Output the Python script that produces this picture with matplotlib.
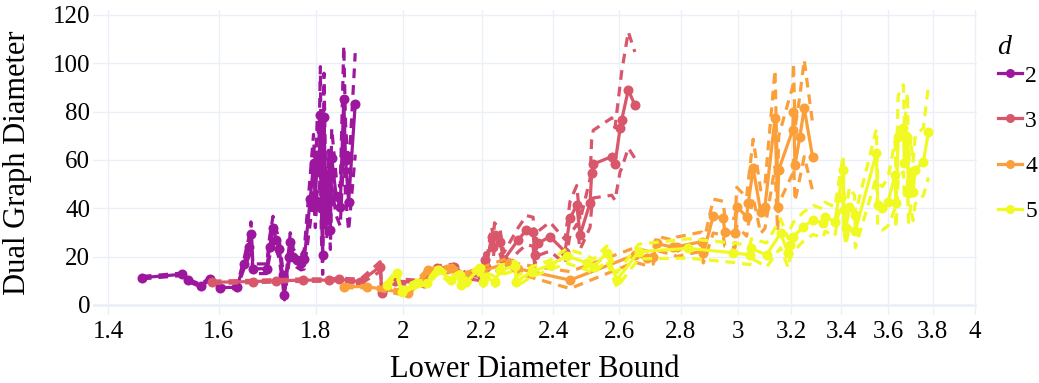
import matplotlib
matplotlib.use("Agg")
import matplotlib.pyplot as plt
from matplotlib.lines import Line2D
from matplotlib.ticker import FixedLocator, FixedFormatter, NullLocator
import numpy as np

# ---------------- data ----------------
d_values = [2, 3, 4, 5]
colors = ["#9c179e", "#d8576b", "#fb9f3a", "#f0f921"]

# d = 2
x_d2 = [1.458, 1.531, 1.541, 1.566, 1.583, 1.602, 1.636, 1.650, 1.660, 1.664,
        1.668, 1.696, 1.702, 1.709, 1.716, 1.722, 1.729, 1.733, 1.742, 1.745,
        1.752, 1.759, 1.768, 1.775, 1.788, 1.795, 1.799, 1.803, 1.807, 1.810,
        1.812, 1.815, 1.818, 1.821, 1.824, 1.828, 1.832, 1.835, 1.845, 1.854,
        1.862, 1.866, 1.873, 1.888]
y_d2 = [11.3, 12.7, 10.3, 8.0, 10.9, 7.2, 7.3, 17.0, 24.0, 29.4,
        15.0, 15.0, 24.0, 31.7, 27.0, 23.0, 12.4, 4.1, 20.0, 25.9,
        20.0, 18.6, 17.5, 18.9, 44.0, 58.6, 42.0, 62.0, 55.0, 78.6,
        40.0, 20.7, 77.9, 50.0, 35.0, 54.0, 31.0, 61.0, 45.0, 40.7,
        85.2, 60.0, 42.7, 83.2]
s_d2 = [0.5, 0.5, 0.5, 0.5, 0.5, 0.5, 0.5, 2, 4, 5,
        2, 2, 4, 5, 4, 4, 3, 2, 3, 4,
        3, 3, 3, 4, 10, 12, 10, 15, 13, 20,
        10, 8, 18, 10, 8, 10, 8, 12, 8, 8,
        22, 15, 12, 21]

# d = 3
x_d3 = [1.587, 1.668, 1.715, 1.773, 1.828, 1.852, 1.900, 1.946, 1.950, 1.980,
        2.051, 2.084, 2.127, 2.160, 2.200, 2.210, 2.213, 2.227, 2.232, 2.235,
        2.250, 2.260, 2.300, 2.323, 2.342, 2.346, 2.356, 2.390, 2.434, 2.449,
        2.469, 2.479, 2.509, 2.514, 2.519, 2.576, 2.586, 2.602, 2.607, 2.628,
        2.649]
y_d3 = [9.4, 9.7, 10.0, 10.3, 10.3, 10.6, 9.7, 15.9, 4.8, 10.0,
        9.0, 15.2, 15.9, 12.0, 12.0, 18.6, 15.9, 28.3, 24.1, 29.0,
        26.2, 18.6, 27.0, 31.0, 30.3, 20.7, 25.5, 28.3, 22.1, 35.9,
        41.4, 29.0, 42.1, 54.5, 58.3, 61.4, 58.3, 73.1, 76.5, 89.0,
        82.7]
s_d3 = [0.5, 0.5, 0.5, 0.5, 0.5, 0.5, 1, 2, 1, 1,
        1, 1, 1, 1, 2, 3, 2, 4, 4, 5,
        5, 3, 5, 6, 6, 4, 5, 6, 5, 7,
        8, 6, 10, 14, 14, 16, 15, 18, 20, 24,
        22]

# d = 4
x_d4 = [1.862, 1.915, 2.012, 2.063, 2.110, 2.119, 2.160, 2.200, 2.274, 2.300,
        2.449, 2.649, 2.688, 2.709, 2.720, 2.775, 2.787, 2.872, 2.878, 2.913,
        2.948, 2.954, 2.991, 2.997, 3.033, 3.039, 3.057, 3.085, 3.101, 3.139,
        3.149, 3.153, 3.207, 3.210, 3.216, 3.235, 3.252, 3.285]
y_d4 = [7.6, 7.6, 4.8, 14.5, 14.7, 15.2, 12.0, 14.0, 17.5, 15.0,
        10.3, 20.7, 19.3, 20.0, 25.5, 23.8, 24.1, 26.2, 21.4, 36.8,
        35.9, 30.3, 29.7, 40.7, 36.5, 42.1, 56.6, 38.6, 40.7, 77.2,
        40.7, 55.9, 72.4, 80.0, 58.0, 69.6, 81.4, 61.4]
s_d4 = [0.5, 0.5, 1, 1, 1, 1, 1.5, 1.5, 2, 2,
        3.5, 3, 3, 3, 3, 3, 4, 4, 4, 7,
        7, 6, 6, 8, 8, 9, 12, 9, 9, 20,
        10, 14, 18, 20, 15, 17, 20, 14]

# d = 5
x_d5 = [1.961, 1.986, 1.998, 2.026, 2.034, 2.059, 2.088, 2.120, 2.143, 2.147,
        2.160, 2.197, 2.205, 2.209, 2.237, 2.250, 2.292, 2.295, 2.338, 2.390,
        2.439, 2.499, 2.520, 2.560, 2.592, 2.661, 2.826, 2.985, 3.045, 3.050,
        3.107, 3.160, 3.190, 3.195, 3.210, 3.249, 3.287, 3.327, 3.335, 3.375,
        3.409, 3.412, 3.420, 3.435, 3.457, 3.460, 3.549, 3.555, 3.575, 3.600,
        3.630, 3.635, 3.644, 3.667, 3.672, 3.685, 3.690, 3.700, 3.710, 3.720,
        3.757, 3.780]
y_d5 = [8.3, 13.1, 5.5, 8.3, 9.0, 9.0, 14.6, 10.3, 12.4, 8.3,
        9.7, 15.2, 9.7, 11.7, 9.7, 14.5, 16.1, 9.7, 13.8, 16.5,
        20.3, 17.5, 15.9, 21.4, 10.3, 22.1, 23.4, 21.6, 20.7, 23.4,
        20.7, 29.7, 21.4, 24.8, 28.3, 32.4, 35.2, 33.8, 36.5, 34.5,
        55.9, 39.3, 31.7, 40.7, 37.2, 30.7, 62.8, 41.4, 40.0, 42.8,
        53.8, 42.0, 69.6, 73.1, 58.6, 69.6, 46.2, 55.0, 46.9, 55.9,
        59.3, 71.7]
s_d5 = [1, 1.5, 1, 1, 1, 1, 1.5, 1.5, 1.5, 1.5,
        1.5, 2, 2, 2, 2, 2, 2, 2, 2, 2,
        3, 3, 3, 3, 3, 3, 4, 4, 4, 4,
        5, 6, 6, 6, 6, 6, 6, 6, 6, 6,
        6, 8, 7, 8, 8, 7, 10, 9, 9, 10,
        14, 10, 17, 18, 15, 18, 12, 14, 12, 14,
        14, 19]

x_ticks = [1.4, 1.6, 1.8, 2, 2.2, 2.4, 2.6, 2.8, 3, 3.2, 3.4, 3.6, 3.8, 4]
x_tick_labels = ["1.4", "1.6", "1.8", "2", "2.2", "2.4", "2.6", "2.8", "3",
                 "3.2", "3.4", "3.6", "3.8", "4"]
y_ticks = [0, 20, 40, 60, 80, 100, 120]

series = [(x_d2, y_d2, s_d2), (x_d3, y_d3, s_d3), (x_d4, y_d4, s_d4), (x_d5, y_d5, s_d5)]

# ---------------- figure ----------------
plt.rcParams['font.family'] = ['Liberation Serif', 'DejaVu Serif']
plt.rcParams['lines.scale_dashes'] = False

W, H = 1039, 383
fig = plt.figure(figsize=(W / 100, H / 100), dpi=100)
ax = fig.add_axes([93 / W, 1 - 315 / H, (977 - 93) / W, (315 - 10) / H])

ax.set_xscale('log')
ax.set_xlim(1.3743, 4.009)
ax.set_ylim(-4.14, 122.05)

grid_c = "#EBF0F8"
for xt in x_ticks:
    ax.axvline(xt, color=grid_c, lw=1.0, zorder=0)
for yt in y_ticks:
    ax.axhline(yt, color=grid_c, lw=2.0 if yt == 0 else 1.0, zorder=0)

for i, ((xs, ys, ss), c) in enumerate(zip(series, colors)):
    xs = np.asarray(xs); ys = np.asarray(ys); ss = np.asarray(ss)
    z = 2 + i
    ax.plot(xs, ys + ss, color=c, lw=2.3, ls=(0, (7, 5)), zorder=z)
    ax.plot(xs, ys - ss, color=c, lw=2.3, ls=(0, (7, 5)), zorder=z)
    ax.plot(xs, ys, color=c, lw=2.3, marker='o', ms=7.2, mew=0, zorder=z)

ax.xaxis.set_major_locator(FixedLocator(x_ticks))
ax.xaxis.set_major_formatter(FixedFormatter(x_tick_labels))
ax.xaxis.set_minor_locator(NullLocator())
ax.set_yticks(y_ticks)
ax.tick_params(axis='both', length=0, labelsize=18)
ax.tick_params(axis='x', pad=4)
ax.tick_params(axis='y', pad=2)
for s in ax.spines.values():
    s.set_visible(False)

ax.set_xlabel("Lower Diameter Bound", fontsize=22)
ax.set_ylabel("Dual Graph Diameter", fontsize=22)
ax.xaxis.set_label_coords(0.5, -0.132)
ax.yaxis.set_label_coords(-0.069, 0.5)

# legend title
fig.text(997 / W, 1 - 47 / H, "d", fontsize=20, style='italic',
         ha='left', va='center')
handles = [Line2D([], [], color=c, lw=2.3, marker='o', ms=6.5, mew=0) for c in colors]
leg = fig.legend(handles, [str(d) for d in d_values],
                 loc='upper left', bbox_to_anchor=(998 / W, 1 - 65 / H),
                 frameon=False, fontsize=17,
                 handlelength=1.0, handletextpad=0.15, labelspacing=1.0,
                 alignment='left', borderaxespad=0, borderpad=0)

fig.savefig("out.png", dpi=100)
